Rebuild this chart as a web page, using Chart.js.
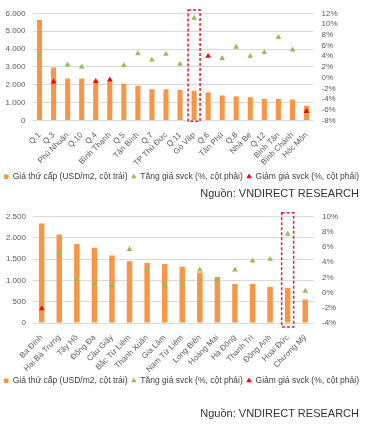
<!DOCTYPE html>
<html>
<head>
<meta charset="utf-8">
<script src="https://cdn.jsdelivr.net/npm/chart.js@4/dist/chart.umd.min.js"></script>
<style>
  html, body { margin: 0; padding: 0; background: #fff; }
  body { width: 378px; height: 431px; position: relative; overflow: hidden; font-family: Arial, "Liberation Sans", sans-serif; }
  .box { position: absolute; left: 0; width: 378px; }
  .src { position: absolute; right: 19px; font-size: 11px; color: #333; line-height: 12px; white-space: nowrap; }
</style>
</head>
<body>
<div class="box" style="top:0; height:191px;"><canvas id="c1"></canvas></div>
<div class="src" style="top:187px;">Nguồn: VNDIRECT RESEARCH</div>
<div class="box" style="top:200px; height:195px;"><canvas id="c2"></canvas></div>
<div class="src" style="top:407px;">Nguồn: VNDIRECT RESEARCH</div>
<script>
// ---- Chart 1: TP.HCM ----
const hcmCategories = ['Q.1','Q.3','Phú Nhuận','Q.10','Q.4','Bình Thạnh','Q.5','Tân Bình','Q.7','TP Thủ Đức','Q.11','Gò Vấp','Q.6','Tân Phú','Q.8','Nhà Bè','Q.12','Bình Tân','Bình Chánh','Hóc Môn'];
const hcmPrice = [5620,2960,2350,2350,2150,2200,2050,1940,1750,1750,1710,1660,1580,1400,1340,1300,1210,1210,1170,820];
const hcmUp   = [4.3,null,2.4,2.0,null,null,2.3,4.5,3.3,4.4,2.5,11.1,null,3.6,5.7,4.0,4.7,7.5,5.2,null];
const hcmDown = [null,-0.8,null,null,-0.7,-0.4,null,null,null,null,null,null,4.0,null,null,null,null,null,null,-6.3];
const hcmLeftTicks = [0, 6000, 1000];
const hcmRightTicks = [-8, 12, 2];
const hcmHighlight = 11;

// ---- Chart 2: Hà Nội ----
const hnCategories = ['Ba Đình','Hai Bà Trưng','Tây Hồ','Đống Đa','Cầu Giấy','Bắc Từ Liêm','Thanh Xuân','Gia Lâm','Nam Từ Liêm','Long Biên','Hoàng Mai','Hà Đông','Thanh Trì','Đông Anh','Hoài Đức','Chương Mỹ'];
const hnPrice = [2340,2080,1860,1770,1590,1450,1410,1390,1320,1190,1080,920,920,850,830,550];
const hnUp   = [null,5.1,1.7,1.2,1.0,5.7,2.9,1.1,1.2,3.0,1.6,3.0,4.2,4.4,7.7,0.2];
const hnDown = [-2.1,null,null,null,null,null,null,null,null,null,null,null,null,null,null,null];
const hnLeftTicks = [0, 2500, 500];
const hnRightTicks = [-4, 10, 2];
const hnHighlight = 14;

const seriesNames = ['Giá thứ cấp (USD/m2, cột trái)', 'Tăng giá svck (%, cột phải)', 'Giảm giá svck (%, cột phải)'];

const ORANGE = '#F79646', GREEN = '#9BBB59', RED = '#FF0000', GRID = '#D9D9D9', TXT = '#595959';
const FONT = 'Arial, "Liberation Sans", sans-serif';

const highlightPlugin = {
  id: 'highlightBox',
  afterDatasetsDraw(chart, args, opts) {
    if (opts.index == null) return;
    const x = chart.scales.x.getPixelForValue(opts.index);
    const a = chart.chartArea;
    const ctx = chart.ctx;
    ctx.save();
    ctx.strokeStyle = '#E0202A';
    ctx.lineWidth = 1.5;
    ctx.setLineDash([3, 2]);
    ctx.strokeRect(x - opts.half, a.top - opts.above, opts.half * 2, a.bottom - a.top + opts.above + opts.below);
    ctx.restore();
  }
};

function fmtThousands(v) {
  return String(v).replace(/\B(?=(\d{3})+(?!\d))/g, '.');
}

function makeChart(id, cats, price, up, down, lt, rt, hl, cfg) {
  return new Chart(document.getElementById(id), {
    type: 'bar',
    data: {
      labels: cats,
      datasets: [
        { type: 'bar', label: seriesNames[0], data: price, yAxisID: 'y', backgroundColor: ORANGE,
          barPercentage: cfg.barPct, categoryPercentage: 1, pointStyle: 'rect', order: 2 },
        { type: 'line', label: seriesNames[1], data: up, yAxisID: 'y1', showLine: false,
          pointStyle: 'triangle', pointRadius: 3.3, pointHoverRadius: 3.3, pointBackgroundColor: GREEN,
          backgroundColor: GREEN, borderColor: GREEN, borderWidth: 0, pointBorderWidth: 0, order: 1 },
        { type: 'line', label: seriesNames[2], data: down, yAxisID: 'y1', showLine: false,
          pointStyle: 'triangle', pointRadius: 3.3, pointHoverRadius: 3.3, pointBackgroundColor: RED,
          backgroundColor: RED, borderColor: RED, borderWidth: 0, pointBorderWidth: 0, order: 0 }
      ]
    },
    options: {
      responsive: true,
      maintainAspectRatio: false,
      animation: false,
      layout: { padding: { top: cfg.padTop, left: 0, right: 0, bottom: 0 } },
      plugins: {
        tooltip: { enabled: false },
        legend: {
          position: 'bottom',
          align: 'start',
          labels: {
            usePointStyle: true, boxWidth: 4.5, boxHeight: 4.5, padding: 4,
            color: '#404040', font: { family: FONT, size: 8.5 },
            sort: (a, b) => a.datasetIndex - b.datasetIndex
          }
        },
        highlightBox: { index: hl, half: 6, above: cfg.above, below: cfg.below }
      },
      scales: {
        x: {
          grid: { display: false },
          border: { display: false },
          ticks: { color: TXT, font: { family: FONT, size: 8 }, minRotation: 45, maxRotation: 45, autoSkip: false, padding: 2 },
          afterFit: (s) => { s.height = cfg.xHeight; }
        },
        y: {
          position: 'left',
          min: lt[0], max: lt[1],
          grid: { color: GRID, drawTicks: false, lineWidth: 1 },
          border: { display: false },
          ticks: { stepSize: lt[2], autoSkip: false, color: TXT, font: { family: FONT, size: 8 }, padding: 7,
                   callback: (v) => fmtThousands(v) },
          afterFit: (s) => { s.width = cfg.leftW; }
        },
        y1: {
          position: 'right',
          min: rt[0], max: rt[1],
          grid: { drawOnChartArea: false, drawTicks: false },
          border: { display: false },
          ticks: { stepSize: rt[2], autoSkip: false, color: TXT, font: { family: FONT, size: 8 }, padding: 8,
                   callback: (v) => v + '%' },
          afterFit: (s) => { s.width = cfg.rightW; }
        }
      }
    },
    plugins: [highlightPlugin]
  });
}

makeChart('c1', hcmCategories, hcmPrice, hcmUp, hcmDown, hcmLeftTicks, hcmRightTicks, hcmHighlight,
  { barPct: 0.36, padTop: 13.3, xHeight: 48, leftW: 32.5, rightW: 64.5, above: 3.3, below: 0.7 });
makeChart('c2', hnCategories, hnPrice, hnUp, hnDown, hnLeftTicks, hnRightTicks, hnHighlight,
  { barPct: 0.31, padTop: 16.7, xHeight: 49.5, leftW: 32.9, rightW: 64, above: 4, below: 4 });
</script>
</body>
</html>
